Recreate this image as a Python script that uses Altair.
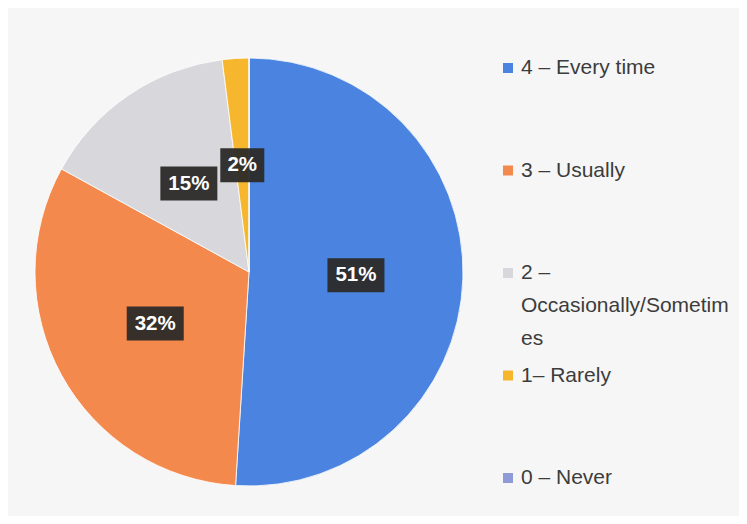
import altair as alt
import pandas as pd

categories = ["4 – Every time", "3 – Usually", "2 – Occasionally/Sometimes", "1– Rarely", "0 – Never"]
legend_labels = ["4 – Every time", "3 – Usually", "2 –\nOccasionally/Sometim\nes", "1– Rarely", "0 – Never"]
values = [51, 32, 15, 2, 0]
colors = ["#4a84e0", "#f4894d", "#d8d7dc", "#f6b72e", "#8e9bd8"]

df = pd.DataFrame({"cat": categories, "legend": legend_labels, "value": values, "idx": list(range(len(values)))})

CX, CY, R, LR = 241, 264, 214, 107

base = alt.Chart(df)
color = alt.Color("cat:N", scale=alt.Scale(domain=categories, range=colors), legend=None)

pie = base.mark_arc(radius=R, stroke="white", strokeWidth=0.8).encode(
    theta=alt.Theta("value:Q", stack=True),
    order=alt.Order("idx:Q"),
    color=color,
    x=alt.value(CX),
    y=alt.value(CY),
)

lab = (
    base.transform_joinaggregate(total="sum(value)")
    .transform_window(cum="sum(value)", sort=[alt.SortField("idx")], frame=[None, 0])
    .transform_filter("datum.value > 0")
    .transform_calculate(
        ang="(datum.cum - datum.value/2)/datum.total*2*PI",
        txt="datum.value + '%'",
    )
    .transform_calculate(
        px=f"{CX} + {LR}*sin(datum.ang)",
        py=f"{CY} - {LR}*cos(datum.ang)",
        w="18 + 13*length(datum.txt)",
    )
    .transform_calculate(
        x1="datum.px - datum.w/2",
        x2="datum.px + datum.w/2",
        y1="datum.py - 17",
        y2="datum.py + 17",
    )
)

boxes = lab.mark_rect(color="#2b2a28", opacity=0.95).encode(
    x=alt.X("x1:Q", scale=None),
    x2="x2:Q",
    y=alt.Y("y1:Q", scale=None),
    y2="y2:Q",
)

texts = lab.mark_text(color="white", fontWeight="bold", fontSize=20.5, font="Liberation Sans", baseline="middle").encode(
    x=alt.X("px:Q", scale=None),
    y=alt.Y("py:Q", scale=None),
    text="txt:N",
)

leg = base.transform_calculate(ly="60 + datum.idx*102.5", lx="500", tx="513")

leg_sq = leg.mark_square(size=100, opacity=1, filled=True).encode(
    x=alt.X("lx:Q", scale=None),
    y=alt.Y("ly:Q", scale=None),
    color=color,
)

leg_txt = leg.mark_text(align="left", baseline="middle", fontSize=21, font="Liberation Sans",
                        color="#3c3c3c", lineBreak="\n", lineHeight=33).encode(
    x=alt.X("tx:Q", scale=None),
    y=alt.Y("ly:Q", scale=None),
    text="legend:N",
)

chart = alt.layer(pie, boxes, texts, leg_sq, leg_txt).properties(
    width=731, height=508, autosize=alt.AutoSizeParams(type="none"), padding=0,
    background="#f6f6f6",
).configure_view(stroke=None)

chart.save("out.html", embed_options={"renderer": "svg", "actions": False})
